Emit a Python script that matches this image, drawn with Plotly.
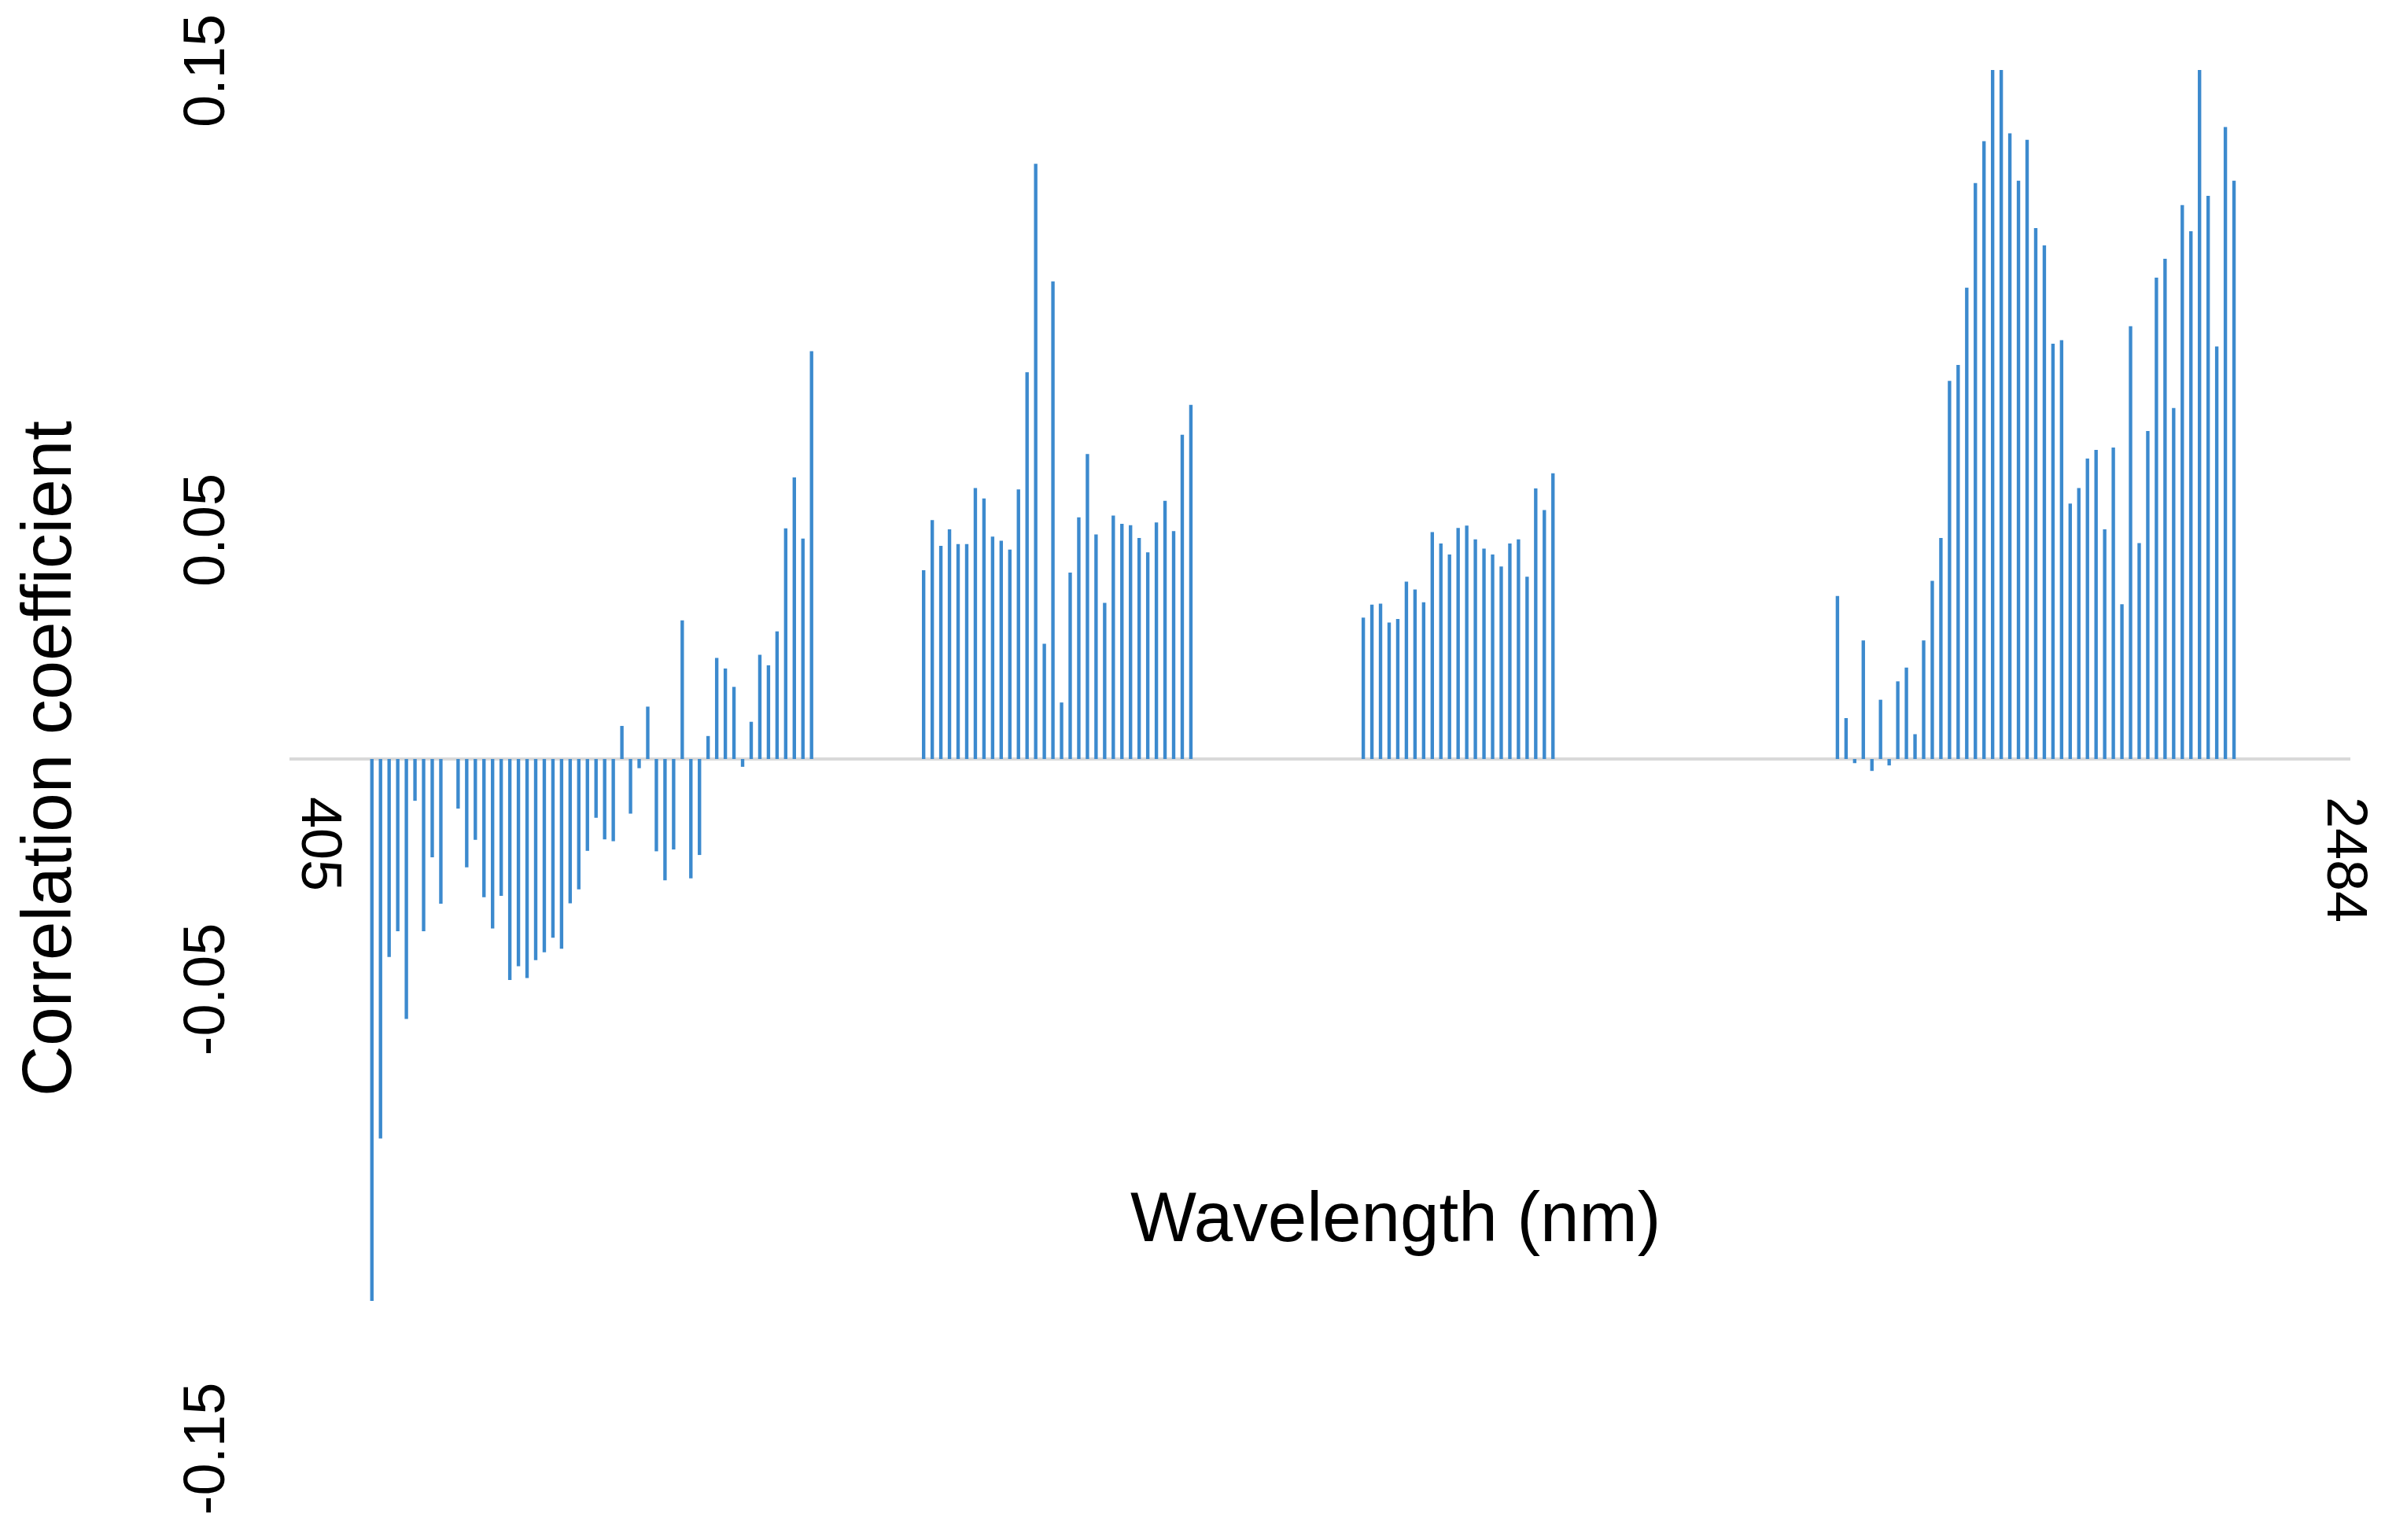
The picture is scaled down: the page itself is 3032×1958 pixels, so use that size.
import plotly.graph_objects as go

# ---- data ----
wl_first = 405
wl_last = 2484
n_bands = 236          # band slots from 405 to 2484 nm

# correlation coefficient per band, grouped by spectral region (start = band slot index)
vis_start = 6
vis_values = [-0.1180, -0.0826, -0.0431, -0.0375, -0.0566, -0.0091, -0.0375, -0.0214, -0.0315, 0.0,
              -0.0108, -0.0236, -0.0176, -0.0301, -0.0369, -0.0298, -0.0481, -0.0451, -0.0477, -0.0438,
              -0.0421, -0.0389, -0.0413, -0.0314, -0.0284, -0.0200, -0.0128, -0.0175, -0.0179, 0.0072,
              -0.0119, -0.0020, 0.0114, -0.0201, -0.0264, -0.0197, 0.0302, -0.0260, -0.0209, 0.0050,
              0.0220, 0.0197, 0.0157, -0.0017, 0.0081, 0.0227, 0.0204, 0.0278, 0.0502, 0.0613,
              0.0480, 0.0888]

nir_start = 70
nir_values = [0.0411, 0.0520, 0.0464, 0.0500, 0.0468, 0.0468, 0.0590, 0.0567, 0.0484, 0.0475,
              0.0456, 0.0587, 0.0842, 0.1296, 0.0251, 0.1040, 0.0123, 0.0406, 0.0526, 0.0664,
              0.0489, 0.0340, 0.0530, 0.0512, 0.0509, 0.0481, 0.0450, 0.0515, 0.0562, 0.0496,
              0.0706, 0.0771]

swir1_start = 121
swir1_values = [0.0308, 0.0336, 0.0338, 0.0297, 0.0305, 0.0386, 0.0369, 0.0341, 0.0494, 0.0469,
                0.0445, 0.0503, 0.0508, 0.0478, 0.0458, 0.0445, 0.0419, 0.0469, 0.0478, 0.0397,
                0.0589, 0.0542, 0.0622]

swir2_start = 176
swir2_values = [0.0355, 0.0089, -0.0009, 0.0258, -0.0026, 0.0129, -0.0014, 0.0169, 0.0199, 0.0054,
                0.0258, 0.0388, 0.0481, 0.0823, 0.0858, 0.1026, 0.1254, 0.1345, 0.1520, 0.1520,
                0.1362, 0.1259, 0.1348, 0.1156, 0.1118, 0.0904, 0.0912, 0.0556, 0.0590, 0.0654,
                0.0673, 0.0500, 0.0678, 0.0337, 0.0942, 0.0470, 0.0714, 0.1048, 0.1089, 0.0764,
                0.1206, 0.1149, 0.1520, 0.1226, 0.0898, 0.1376, 0.1259]

y_ticks = [-0.15, -0.05, 0.05, 0.15]
y_ticklabels = ["-0.15", "-0.05", "0.05", "0.15"]
x_ticks = [wl_first, wl_last]
x_ticklabels = ["405", "2484"]

# ---- build ----
step = (wl_last - wl_first) / (n_bands - 1)
xs, ys = [], []
for start, vals in [(vis_start, vis_values), (nir_start, nir_values),
                    (swir1_start, swir1_values), (swir2_start, swir2_values)]:
    for i, v in enumerate(vals):
        xs.append(wl_first + (start + i) * step)
        ys.append(v)

FONT = "Liberation Sans, Arial, sans-serif"

fig = go.Figure()
fig.add_trace(go.Bar(x=xs, y=ys, width=step * 0.40,
                     marker=dict(color="rgb(60,138,206)", line=dict(width=0)),
                     showlegend=False))

fig.update_layout(
    width=3016, height=1942,
    margin=dict(l=360, r=36, t=81, b=109),
    paper_bgcolor="white", plot_bgcolor="white",
    font=dict(family=FONT, color="black"),
    xaxis=dict(range=[wl_first - 3.56 * step, wl_last + 0.5 * step],
               tickvals=x_ticks, ticktext=x_ticklabels, tickangle=90,
               tickfont=dict(size=72, family=FONT, color="black"),
               showgrid=False, zeroline=False, showline=False, ticks="",
               anchor="free", position=0.5, automargin=False,
               ticklabelstandoff=47, ticklabeloverflow="allow"),
    yaxis=dict(range=[-0.15, 0.15], tickvals=y_ticks, ticktext=y_ticklabels,
               tickangle=-90, tickfont=dict(size=74, family=FONT, color="black"),
               showgrid=False, zeroline=True, zerolinecolor="#d9d9d9", zerolinewidth=4,
               showline=False, ticks="", automargin=False, ticklabelstandoff=67,
               ticklabelshift=12, ticklabeloverflow="allow"),
    annotations=[
        dict(text="Wavelength (nm)", xref="paper", yref="paper", x=0.5366, y=0.168,
             xanchor="center", yanchor="middle", showarrow=False,
             font=dict(size=89, family=FONT, color="black")),
        dict(text="Correlation coefficient", xref="paper", yref="paper", x=-0.1179, y=0.5,
             xanchor="center", yanchor="middle", textangle=-90, showarrow=False,
             font=dict(size=89, family=FONT, color="black")),
    ],
)

fig.write_html("out.html")
